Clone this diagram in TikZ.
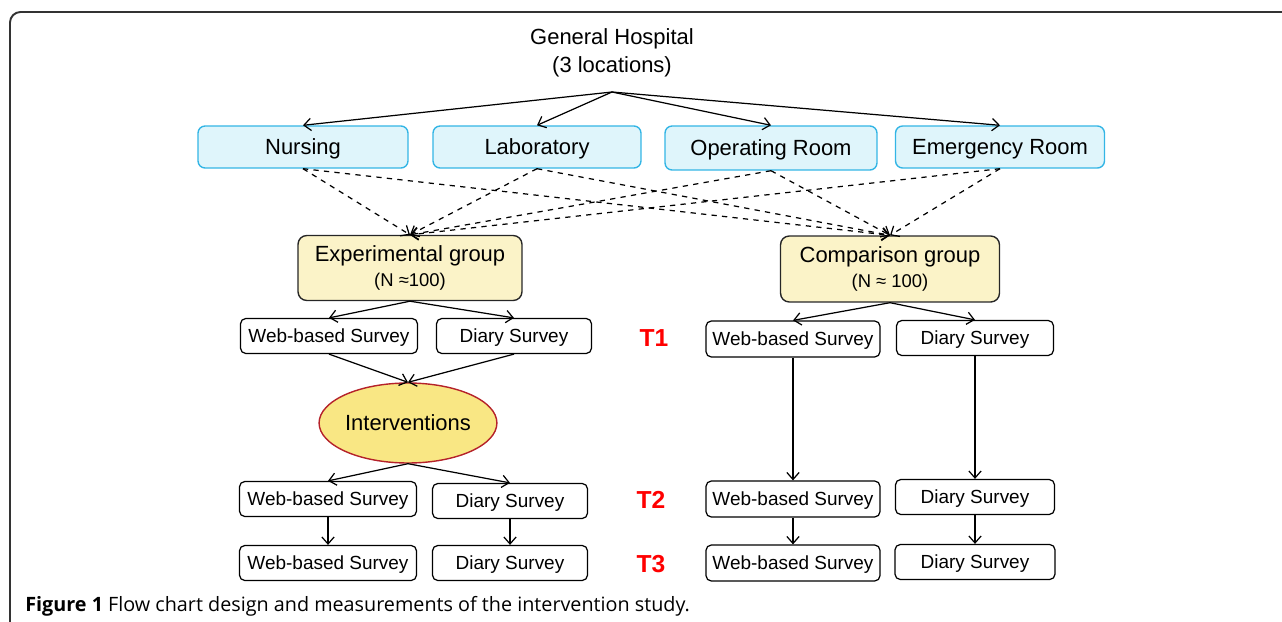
\documentclass[tikz,border=0pt]{standalone}
\usepackage{fontspec}
\setmainfont{Liberation Sans}
\newfontfamily\capfont{Open Sans}
\usetikzlibrary{positioning}
\usetikzlibrary{shapes.geometric}
\usetikzlibrary{arrows.meta}
\definecolor{unitfill}{HTML}{DFF5FB}
\definecolor{unitline}{HTML}{33B5E5}
\definecolor{groupfill}{HTML}{FBF3C8}
\definecolor{intfill}{HTML}{F9E784}
\definecolor{intline}{HTML}{B5222A}
\definecolor{tred}{HTML}{FF0000}
\tikzset{
  unit/.style={draw=unitline,fill=unitfill,rounded corners=4pt,line width=0.8pt,text depth=0pt,
    minimum width=4.2cm,minimum height=0.84cm,font=\fontsize{12.5}{15}\selectfont},
  group/.style={draw=black!85,fill=groupfill,rounded corners=5pt,line width=0.8pt,
    minimum width=4.4cm,minimum height=1.3cm,align=center,font=\fontsize{12.5}{15}\selectfont},
  survey/.style={draw,rounded corners=3pt,line width=0.7pt,text depth=0pt,
    minimum height=0.7cm,font=\fontsize{10.8}{12}\selectfont},
  web/.style={survey,minimum width=3.54cm},
  diary/.style={survey,minimum width=3.1cm},
  tlabel/.style={text=tred,font=\fontsize{14}{16}\selectfont\bfseries}
}
\begin{document}
\begin{tikzpicture}[x=0.02cm,y=-0.02cm,>={Straight Barb[length=4pt,width=7pt]},
    every edge/.style={draw,line width=0.7pt}]
    \useasboundingbox (0,0) rectangle (1282,622);
    % frame
    \draw[line width=1.1pt,black!80,rounded corners=6pt] (1282,12) -- (10,12) -- (10,622);
    % hospital and units
    \node[align=center,font=\fontsize{12.5}{16}\selectfont] (hosp) at (612,53) {General Hospital\\(3 locations)};
    \coordinate (split) at (612,92);
    \node[unit]                    (nurs)   at (303,147)  {Nursing};
    \node[unit,minimum width=4.16cm] (lab)  at (537,147)  {Laboratory};
    \node[unit,minimum width=4.24cm,minimum height=0.88cm] (oproom) at (771,148) {Operating Room};
    \node[unit,minimum width=4.18cm] (emroom) at (1000,147) {Emergency Room};
    \path[->] (split) edge (nurs.north)
                      edge (lab.north)
                      edge (oproom.north)
                      edge (emroom.north);
    % groups
    \node[group,minimum width=4.48cm]               (expgrp)  at (410,268) {Experimental group\\[-1pt]{\fontsize{10.5}{12}\selectfont(N ≈100)}};
    \node[group,minimum width=4.38cm,minimum height=1.32cm] (cmpgrp) at (890,269) {Comparison group\\[-1pt]{\fontsize{10.5}{12}\selectfont(N ≈ 100)}};
    \path[->,dashed] (nurs.south)   edge (expgrp.north)
                                    edge (cmpgrp.north)
                     (lab.south)    edge (expgrp.north)
                                    edge (cmpgrp.north)
                     (oproom.south) edge (expgrp.north)
                                    edge (cmpgrp.north)
                     (emroom.south) edge (expgrp.north)
                                    edge (cmpgrp.north);
    % T1
    \node[web]   (webA) at (329,336) {Web-based Survey};
    \node[diary] (diaA) at (514,336) {Diary Survey};
    \node[web,minimum width=3.48cm,minimum height=0.72cm]   (webB) at (793,339) {Web-based Survey};
    \node[diary,minimum width=3.14cm] (diaB) at (975,338) {Diary Survey};
    \node[tlabel] (tone) at (654,338) {T1};
    \path[->] (expgrp.south) edge (webA.north)
                             edge (diaA.north)
              (cmpgrp.south) edge (webB.north)
                             edge (diaB.north);
    % interventions
    \node[ellipse,draw=intline,fill=intfill,line width=0.8pt,inner sep=0pt,minimum width=3.54cm,minimum height=1.6cm,
          font=\fontsize{12.5}{15}\selectfont] (interv) at (408,423) {Interventions};
    \path[->] (webA.south) edge (interv.north)
              (diaA.south) edge (interv.north);
    % T2
    \node[web]   (webC) at (328,499) {Web-based Survey};
    \node[diary] (diaC) at (510,501) {Diary Survey};
    \node[web,minimum width=3.48cm,minimum height=0.72cm]   (webD) at (793,499) {Web-based Survey};
    \node[diary,minimum width=3.18cm] (diaD) at (975,497) {Diary Survey};
    \node[tlabel] (ttwo) at (651,500) {T2};
    \path[->] (interv.south) edge (webC.north)
                             edge (diaC.north)
              (webB.south)   edge (webD.north)
              (diaB.south)   edge (diaD.north);
    % T3
    \node[web]   (webE) at (328,563) {Web-based Survey};
    \node[diary] (diaE) at (510,563) {Diary Survey};
    \node[web,minimum width=3.48cm,minimum height=0.72cm]   (webF) at (793,563) {Web-based Survey};
    \node[diary,minimum width=3.2cm] (diaF) at (975,562) {Diary Survey};
    \node[tlabel] (tthree) at (651,564) {T3};
    \path[->] (webC.south) edge (webE.north)
              (diaC.south) edge (diaE.north)
              (webD.south) edge (webF.north)
              (diaD.south) edge (diaF.north);
    % caption
    \node[anchor=west,inner sep=0pt,font=\capfont\fontsize{11.25}{13}\selectfont] (caption) at (25,606)
      {\textbf{Figure 1} Flow chart design and measurements of the intervention study.};
\end{tikzpicture}
\end{document}
